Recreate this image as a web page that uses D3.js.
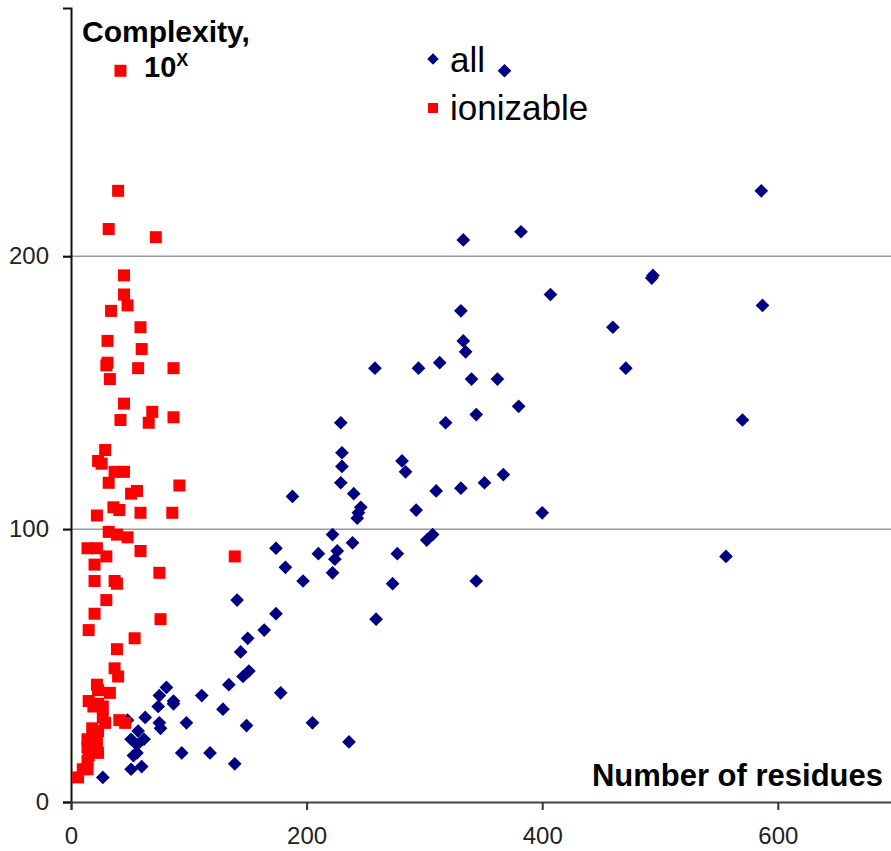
<!DOCTYPE html>
<html lang="en">
<head>
	<meta charset="UTF-8">
	<title>Complexity vs residues</title>
	<script src="https://cdn.jsdelivr.net/npm/d3@7/dist/d3.min.js"></script>
	<style>
		body { margin: 0; background: #fff; }
		text { font-family: "Liberation Sans", Arial, sans-serif; }
	</style>
</head>
<body>
	<svg id="svg"></svg>
	<script>
		// series "all" : [number of residues, complexity]
		var allX = [368, 586, 382, 333, 407, 587, 494, 493, 331, 460, 333, 335, 258, 295, 313, 471, 340, 362, 380, 570,
			344, 318, 229, 230, 230, 281, 284, 367, 229, 351, 331, 310, 240, 188, 246, 244, 243, 293, 400, 222,
			302, 307, 174, 239, 226, 224, 210, 277, 556, 182, 222, 197, 273, 344, 259, 141, 174, 164, 150, 144,
			151, 146, 134, 178, 111, 81, 75, 74, 87, 87, 129, 63, 75, 76, 98, 149, 48, 57, 51, 62,
			56, 56, 53, 94, 118, 139, 60, 51, 27, 205, 236];
		var allY = [268, 224, 209, 206, 186, 182, 193, 192, 180, 174, 169, 165, 159, 159, 161, 159, 155, 155, 145, 140,
			142, 139, 139, 128, 123, 125, 121, 120, 117, 117, 115, 114, 113, 112, 108, 106, 104, 107, 106, 98,
			96, 98, 93, 95, 92, 89, 91, 91, 90, 86, 84, 81, 80, 81, 67, 74, 69, 63, 60, 55,
			48, 46, 43, 40, 39, 42, 39, 35, 37, 36, 34, 31, 29, 27, 29, 28, 30, 26, 23, 23,
			21, 18, 17, 18, 18, 14, 13, 12, 9, 29, 22];

		// series "ionizable"
		var ionX = [42, 40, 32, 72, 45, 45, 48, 34, 59, 31, 60, 31, 30, 57, 87, 33, 45, 69, 66, 42,
			87, 29, 23, 26, 37, 45, 32, 51, 56, 92, 36, 41, 59, 86, 22, 32, 39, 48, 14, 22,
			30, 59, 20, 75, 20, 37, 39, 30, 20, 76, 15, 54, 39, 37, 40, 22, 23, 33, 15, 23,
			27, 19, 27, 29, 41, 46, 18, 23, 14, 22, 14, 22, 15, 23, 14, 14, 10, 6, 139];
		var ionY = [268, 224, 210, 207, 193, 186, 182, 180, 174, 169, 166, 161, 160, 159, 159, 155, 146, 143, 139, 140,
			141, 129, 125, 124, 121, 121, 117, 113, 114, 116, 108, 107, 106, 106, 105, 99, 98, 97, 93, 93,
			90, 92, 87, 84, 81, 81, 80, 74, 69, 67, 63, 60, 56, 49, 46, 43, 41, 40, 37, 36,
			35, 35, 31, 29, 30, 29, 27, 26, 23, 23, 20, 20, 17, 18, 15, 12, 12, 9, 90];

		var xTicks = [0, 200, 400, 600];
		var yTicks = [0, 100, 200];
		var gridTicks = [100, 200];

		window.onload = function() {
			var w = 891,
				h = 851,
				svg = d3.select("#svg").attr("width", w).attr("height", h);

			var x = d3.scaleLinear().domain([0, 700]).range([71, 895.6]);
			var y = d3.scaleLinear().domain([0, 291]).range([802, 8]);

			// gridlines
			svg.append("g").selectAll("line")
				.data(gridTicks)
				.enter().append("line")
				.attr("x1", 63).attr("x2", w)
				.attr("y1", function(d) { return y(d); })
				.attr("y2", function(d) { return y(d); })
				.attr("stroke", "#9a9a9a")
				.attr("stroke-width", 1.5);

			// y axis
			var yAxis = svg.append("g")
				.attr("transform", "translate(" + x(0) + ",0)")
				.call(d3.axisLeft(y).tickValues(yTicks).tickSize(8).tickPadding(14)
					.tickFormat(d3.format("d")));
			yAxis.select(".domain").attr("stroke", "#111").attr("stroke-width", 2);
			yAxis.selectAll(".tick line").attr("stroke", "#111").attr("stroke-width", 2);
			yAxis.selectAll(".tick text").attr("font-size", 24).attr("fill", "#222")
				.style("font-family", "'Liberation Sans', Arial, sans-serif");

			// x axis
			var xAxis = svg.append("g")
				.attr("transform", "translate(0," + y(0) + ")")
				.call(d3.axisBottom(x).tickValues(xTicks).tickSize(8).tickPadding(17)
					.tickFormat(d3.format("d")));
			xAxis.select(".domain").attr("stroke", "#444").attr("stroke-width", 2);
			xAxis.selectAll(".tick line").attr("stroke", "#333").attr("stroke-width", 2);
			xAxis.selectAll(".tick text").attr("font-size", 24).attr("fill", "#222")
				.style("font-family", "'Liberation Sans', Arial, sans-serif");

			var diamond = d3.symbol().type(d3.symbolDiamond2).size(120);

			var allPts = allX.map(function(d, i) { return [d, allY[i]]; });
			var ionPts = ionX.map(function(d, i) { return [d, ionY[i]]; });

			svg.append("g").selectAll("path")
				.data(allPts)
				.enter().append("path")
				.attr("d", diamond)
				.attr("transform", function(d) {
					return "translate(" + x(d[0]) + "," + y(d[1]) + ")";
				})
				.attr("fill", "#000080");

			var sq = 12;
			svg.append("g").selectAll("rect")
				.data(ionPts)
				.enter().append("rect")
				.attr("x", function(d) { return x(d[0]) - sq / 2; })
				.attr("y", function(d) { return y(d[1]) - sq / 2; })
				.attr("width", sq).attr("height", sq)
				.attr("fill", "#ff0000");

			// axis titles
			svg.append("text")
				.attr("x", 82).attr("y", 42)
				.attr("font-size", 30).attr("font-weight", "bold")
				.text("Complexity,");
			var t = svg.append("text")
				.attr("x", 144).attr("y", 77)
				.attr("font-size", 29).attr("font-weight", "bold");
			t.append("tspan").text("10");
			t.append("tspan").attr("dy", -11).attr("font-size", 18).text("X");

			svg.append("text")
				.attr("x", 883).attr("y", 786)
				.attr("text-anchor", "end")
				.attr("font-size", 31).attr("font-weight", "bold")
				.text("Number of residues");

			// legend
			var legend = svg.append("g");
			legend.append("path")
				.attr("d", d3.symbol().type(d3.symbolDiamond2).size(85))
				.attr("transform", "translate(433,59)")
				.attr("fill", "#000080");
			legend.append("text")
				.attr("x", 450).attr("y", 72)
				.attr("font-size", 35)
				.text("all");
			legend.append("rect")
				.attr("x", 428).attr("y", 103).attr("width", 10).attr("height", 10)
				.attr("fill", "#ff0000");
			legend.append("text")
				.attr("x", 450).attr("y", 120)
				.attr("font-size", 35)
				.text("ionizable");
		}
	</script>
</body>
</html>
